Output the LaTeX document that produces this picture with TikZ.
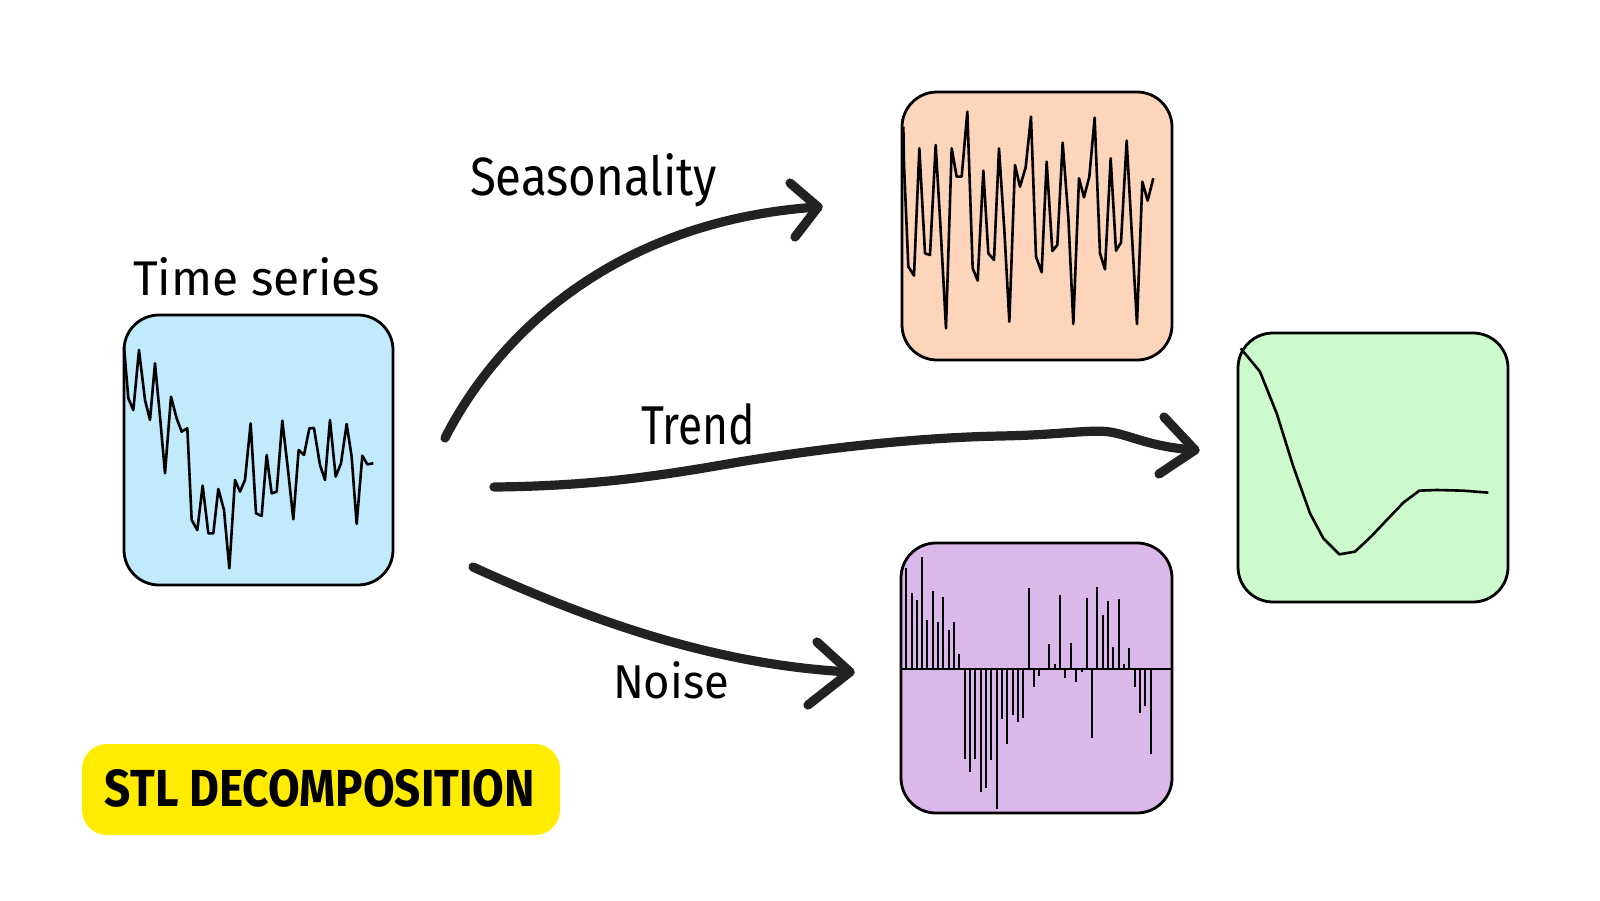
\documentclass[tikz,border=0pt]{standalone}
\usepackage{fontspec}
\setmainfont{Fira Sans}
\usepackage{graphicx}
\definecolor{tsblue}{HTML}{C1EAFD}
\definecolor{seasorange}{HTML}{FDD5BB}
\definecolor{trendgreen}{HTML}{CCFACC}
\definecolor{noisepurple}{HTML}{DAB9EA}
\definecolor{tagyellow}{HTML}{FFEC00}
\definecolor{inkc}{HTML}{222222}
\begin{document}
\begin{tikzpicture}[x=0.5pt,y=-0.5pt,
  panel/.style={draw=black, line width=1.4pt, rounded corners=17.5pt, inner sep=0pt, outer sep=0pt},
  series/.style={draw=black, line width=1.3pt, line join=round},
  bar/.style={draw=black, line width=1.1pt},
  flow/.style={draw=inkc, line width=4.6pt, line cap=round, line join=round},
  word/.style={inner sep=0pt, outer sep=0pt, anchor=base west, text=black},
]
\useasboundingbox[fill=white] (0,0) rectangle (1600,900);

% panels
\node[panel, fill=tsblue, minimum width=134.5pt, minimum height=135pt] (ts) at (258.5,450) {};
\node[panel, fill=seasorange, minimum width=135pt, minimum height=134pt] (seas) at (1037,226) {};
\node[panel, fill=trendgreen, minimum width=135pt, minimum height=134.5pt] (trend) at (1373,467.5) {};
\node[panel, fill=noisepurple, minimum width=135.5pt, minimum height=135pt] (noise) at (1036.5,678) {};

% time series chart
\begin{scope}[shift={(110,300)},scale=0.3333]
\draw[series] plot coordinates {(42,140) (55,295) (70,330) (87,150) (105,300) (120,360) (135,190) (150,350) (165,520) (183,290) (200,355) (215,395) (232,385) (245,660) (262,690) (278,557) (295,700) (310,700) (325,567) (342,630) (358,805) (375,540) (390,575) (405,540) (422,370) (438,640) (455,648) (470,465) (485,580) (500,575) (517,362) (533,500) (550,658) (566,450) (582,465) (598,385) (612,384) (630,495) (645,540) (660,360) (677,530) (693,490) (710,372) (725,470) (740,672) (757,467) (772,493) (790,490)};
\end{scope}

% seasonality chart
\begin{scope}[shift={(890,80)},scale=0.3333]
\draw[series] plot coordinates {(40,140) (42,255) (55,560) (72,587) (88,205) (105,520) (120,525) (137,195) (152,450) (168,745) (185,205) (200,290) (215,290) (232,95) (248,565) (263,602) (280,272) (295,520) (312,540) (327,205) (343,450) (358,725) (375,255) (390,320) (407,262) (423,110) (438,530) (455,577) (470,245) (487,513) (502,495) (518,188) (535,412) (550,732) (567,295) (582,352) (598,290) (614,113) (630,520) (645,568) (662,235) (678,512) (693,488) (710,182) (725,452) (741,732) (757,305) (773,362) (790,295)};
\end{scope}

% trend chart
\begin{scope}[shift={(1230,320)},scale=0.3333]
\draw[series] plot coordinates {(32,85) (90,155) (140,280) (190,440) (240,580) (280,655) (328,703) (375,695) (425,648) (475,595) (520,548) (568,512) (620,510) (700,512) (775,518)};
\end{scope}

% noise chart
\begin{scope}[shift={(890,535)},scale=0.3333]
\draw[bar] (35,403) -- (845,403);
\foreach \bx/\by in {47/100,65/175,80/195,97/65,112/255,128/167,145/260,160/187,176/285,192/262,208/357,225/672,240/710,256/672,272/772,288/758,304/675,320/822,336/553,350/627,368/540,383/562,400/550,416/160,432/455,448/423,463/398,478/328,494/387,510/180,526/428,542/323,558/440,575/410,591/188,606/608,622/157,638/240,654/197,670/337,686/193,702/388,718/340,734/455,750/533,766/513,782/656}
  \draw[bar] (\bx,403) -- (\bx,\by);
\end{scope}

% labels
\node[word] (tslabel) at (133,295) {\resizebox{123.5pt}{19pt}{Time series}};
\node[word] (seaslabel) at (470,195) {\resizebox{123.5pt}{21pt}{Seasonality}};
\node[word] (trendlabel) at (641,444) {\resizebox{57pt}{20.5pt}{Trend}};
\node[word] (noiselabel) at (613,698) {\resizebox{58pt}{18.5pt}{Noise}};

% connectors
\coordinate (sS) at (445,438);
\coordinate (sT) at (818,207);
\coordinate (sA1) at (790,183);
\coordinate (sA2) at (795,237);
\draw[flow] (sS) .. controls (500,330) and (620,220) .. (sT);
\draw[flow] (sA1) -- (sT) -- (sA2);

\coordinate (tS) at (494,487);
\coordinate (tT) at (1195,450);
\coordinate (tA1) at (1164,417);
\coordinate (tA2) at (1159,474);
\draw[flow] (tS) .. controls (600,486) and (670,474) .. (739,462)
  .. controls (800,452) and (900,438) .. (1000,436)
  .. controls (1060,435) and (1090,429) .. (1110,432)
  .. controls (1130,435) and (1150,447) .. (tT);
\draw[flow] (tA1) -- (tT) -- (tA2);

\coordinate (nS) at (473,567);
\coordinate (nT) at (850,672);
\coordinate (nA1) at (817,642);
\coordinate (nA2) at (808,705);
\draw[flow] (nS) .. controls (600,625) and (720,665) .. (nT);
\draw[flow] (nA1) -- (nT) -- (nA2);

% tag
\node[panel, draw=none, fill=tagyellow, rounded corners=12.5pt, minimum width=239pt, minimum height=45.5pt] (tag) at (321,789.5) {};
\node[inner sep=0pt, text=black] (tagtext) at (320,788.5) {\resizebox{215pt}{18.5pt}{\bfseries STL DECOMPOSITION}};
\end{tikzpicture}
\end{document}
